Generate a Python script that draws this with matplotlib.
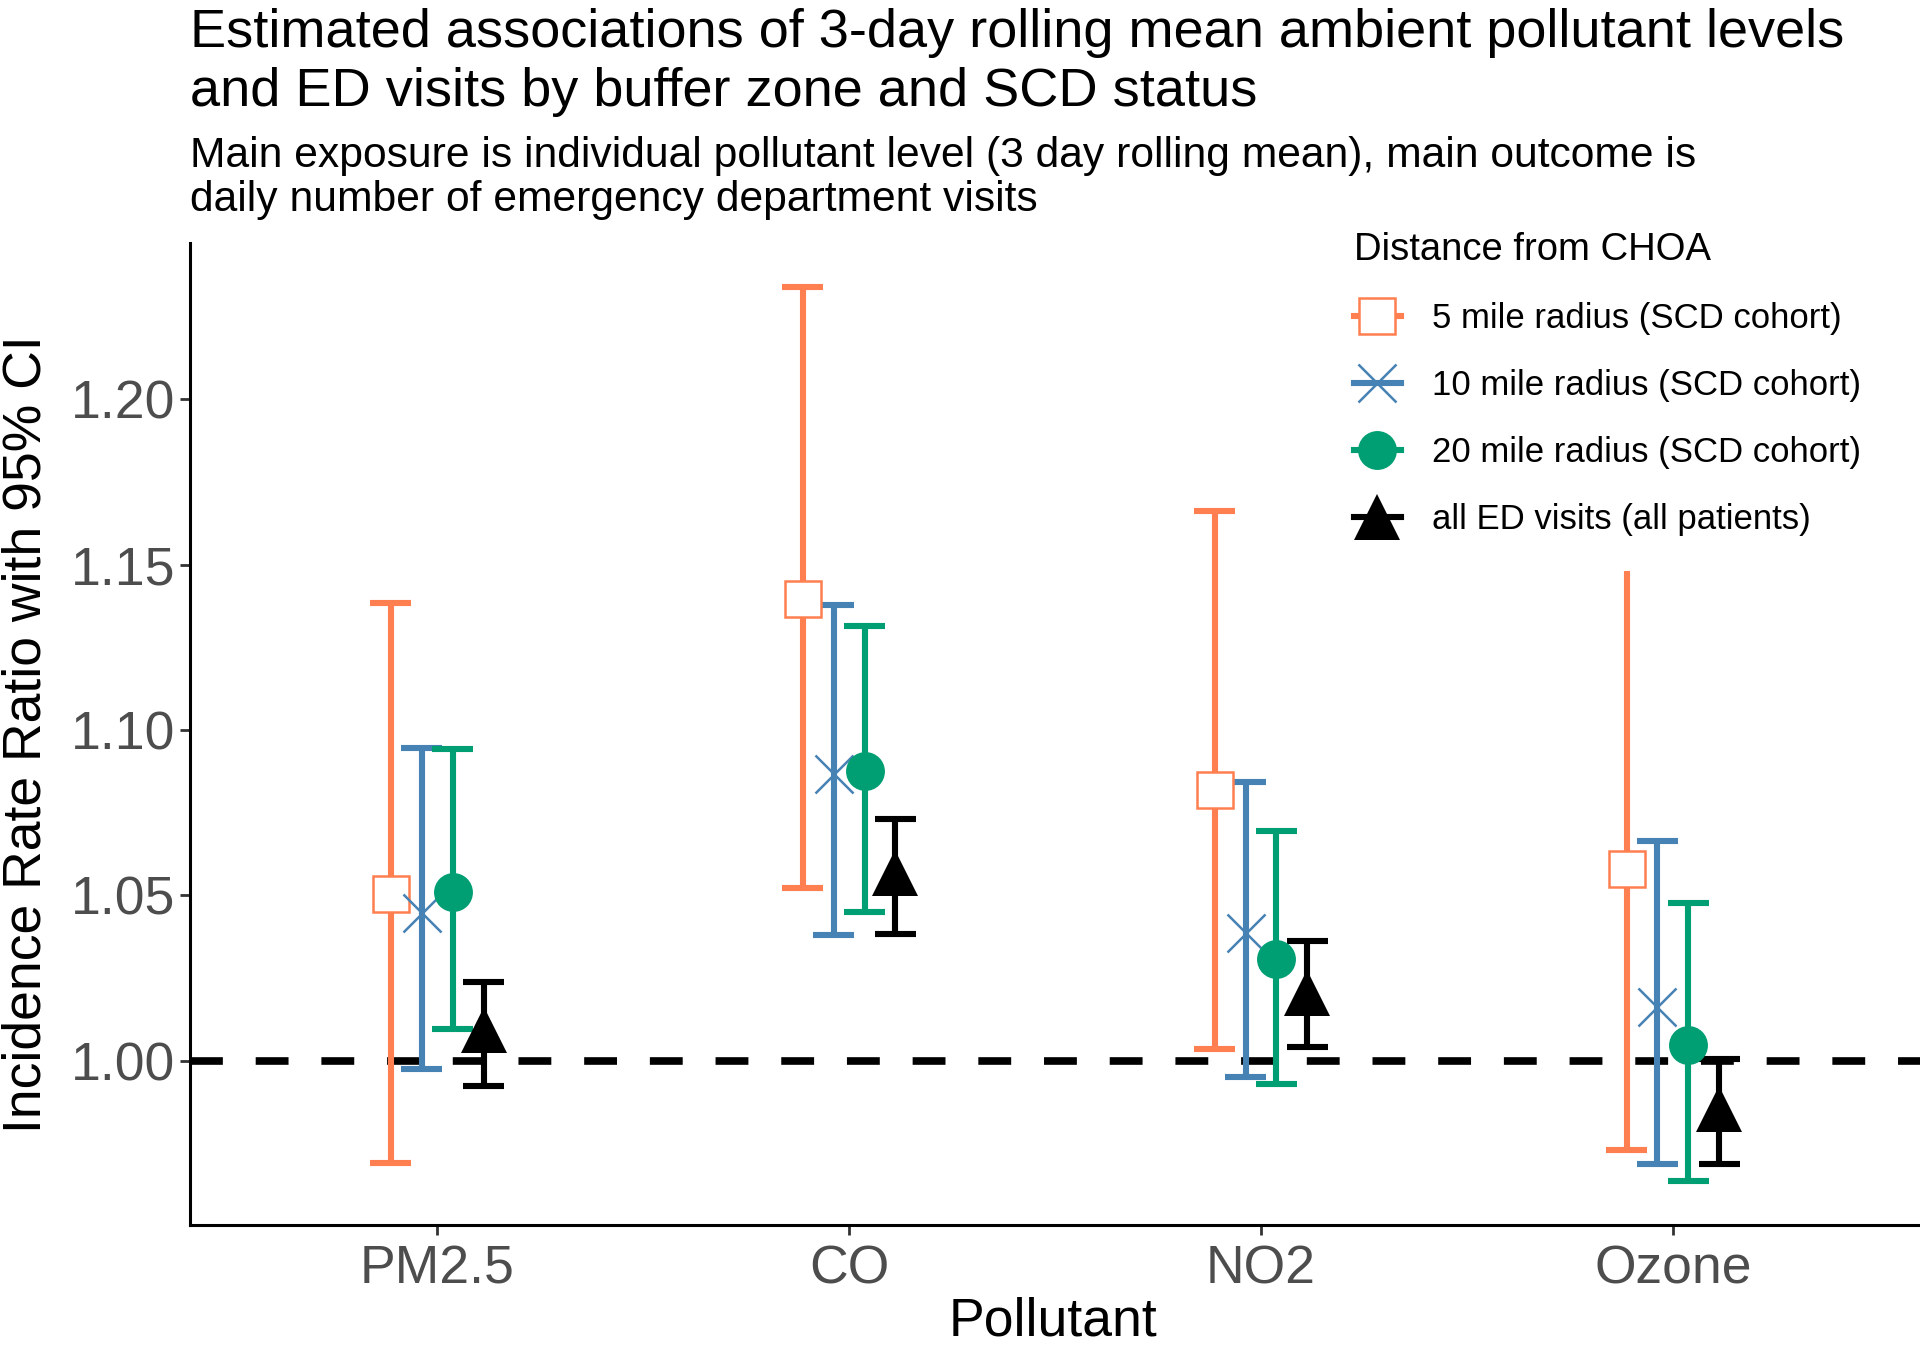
import numpy as np
import matplotlib.pyplot as plt
from matplotlib.lines import Line2D

plt.rcParams['font.family'] = ['Liberation Sans', 'DejaVu Sans']

pollutants = ['PM2.5', 'CO', 'NO2', 'Ozone']
groups = ['5 mile radius (SCD cohort)', '10 mile radius (SCD cohort)',
          '20 mile radius (SCD cohort)', 'all ED visits (all patients)']

# incidence rate ratios + 95% CI, one list per group, in pollutant order
irr_5 = [1.0505, 1.1396, 1.0819, 1.0581]
lo_5 = [0.9690, 1.0524, 1.0036, 0.9731]
hi_5 = [1.1385, 1.2340, 1.1662, 1.1481]

irr_10 = [1.0447, 1.0868, 1.0386, 1.0163]
lo_10 = [0.9975, 1.0382, 0.9952, 0.9689]
hi_10 = [1.0945, 1.1377, 1.0843, 1.0665]

irr_20 = [1.0511, 1.0875, 1.0307, 1.0049]
lo_20 = [1.0096, 1.0450, 0.9929, 0.9638]
hi_20 = [1.0943, 1.1315, 1.0694, 1.0477]

irr_all = [1.0092, 1.0567, 1.0205, 0.9855]
lo_all = [0.9923, 1.0385, 1.0043, 0.9689]
hi_all = [1.0239, 1.0730, 1.0362, 1.0007]

colors = ['#FF7F50', '#4682B4', '#009E73', '#000000']
markers = ['s', 'x', 'o', '^']
dodge = [-0.1125, -0.0375, 0.0375, 0.1125]
cap_w = 0.05
lw = 4.4

est = [irr_5, irr_10, irr_20, irr_all]
lows = [lo_5, lo_10, lo_20, lo_all]
highs = [hi_5, hi_10, hi_20, hi_all]


def marker_style(g):
    if markers[g] == 's':
        return dict(marker='s', ms=26, mfc='white', mec=colors[g], mew=1.8)
    if markers[g] == 'x':
        return dict(marker='x', ms=28, mec=colors[g], mew=1.8)
    return dict(marker=markers[g], ms=28 if g == 2 else 33, mfc=colors[g], mec=colors[g], mew=0)


fig = plt.figure(figsize=(19.2, 13.51), dpi=100)
ax = fig.add_axes([0.099, 0.0933, 0.901, 0.7272])

ax.axhline(1.0, color='black', lw=5.5, linestyle=(0, (4.3, 4.3)), zorder=1)

xs = np.arange(1, len(pollutants) + 1)
for g in range(4):
    x = xs + dodge[g]
    lo = np.array(lows[g])
    hi = np.array(highs[g])
    ax.vlines(x, lo, hi, color=colors[g], lw=lw, zorder=2)
    ax.hlines(lo, x - cap_w, x + cap_w, color=colors[g], lw=lw, zorder=2)
    top = np.ones(len(x), dtype=bool)
    if g == 0:
        top[3] = False  # ozone 5 mile bar has no top cap in the original
    ax.hlines(hi[top], x[top] - cap_w, x[top] + cap_w, color=colors[g], lw=lw, zorder=2)
    ax.plot(x, est[g], linestyle='none', zorder=3, **marker_style(g))

ax.set_xlim(0.4, 4.6)
ax.set_ylim(0.9504, 1.2474)
ax.set_xticks(xs)
ax.set_xticklabels(pollutants)
ax.set_yticks([1.00, 1.05, 1.10, 1.15, 1.20])
ax.set_yticklabels(['1.00', '1.05', '1.10', '1.15', '1.20'])
ax.tick_params(labelsize=38.5, labelcolor='#4D4D4D', color='#333333', length=7, width=2)
ax.tick_params(axis='y', pad=3.5)
ax.tick_params(axis='x', pad=7)
for s in ['top', 'right']:
    ax.spines[s].set_visible(False)
for s in ['left', 'bottom']:
    ax.spines[s].set_linewidth(2.2)

fig.text(0.5484, 0.0215, 'Pollutant', fontsize=38.5, ha='center', va='center')
fig.text(0.014, 0.4567, 'Incidence Rate Ratio with 95% CI', fontsize=38.5,
         rotation=90, ha='center', va='center')

fig.text(0.099, 0.994, 'Estimated associations of 3-day rolling mean ambient pollutant levels\n'
         'and ED visits by buffer zone and SCD status', fontsize=39, ha='left', va='top',
         linespacing=1.23)
fig.text(0.099, 0.899, 'Main exposure is individual pollutant level (3 day rolling mean), main outcome is\n'
         'daily number of emergency department visits', fontsize=30.7, ha='left', va='top',
         linespacing=1.11)

handles = [Line2D([], [], color=colors[g], lw=lw, **marker_style(g)) for g in range(4)]
leg = fig.legend(handles, groups, loc='upper left', bbox_to_anchor=(0.696, 0.8414),
                 frameon=False, fontsize=25, title='Distance from CHOA', title_fontsize=27.5,
                 handlelength=1.35, handletextpad=0.9, labelspacing=0.98, borderpad=0)
leg._legend_box.align = 'left'

fig.savefig('out.png', dpi=100)
